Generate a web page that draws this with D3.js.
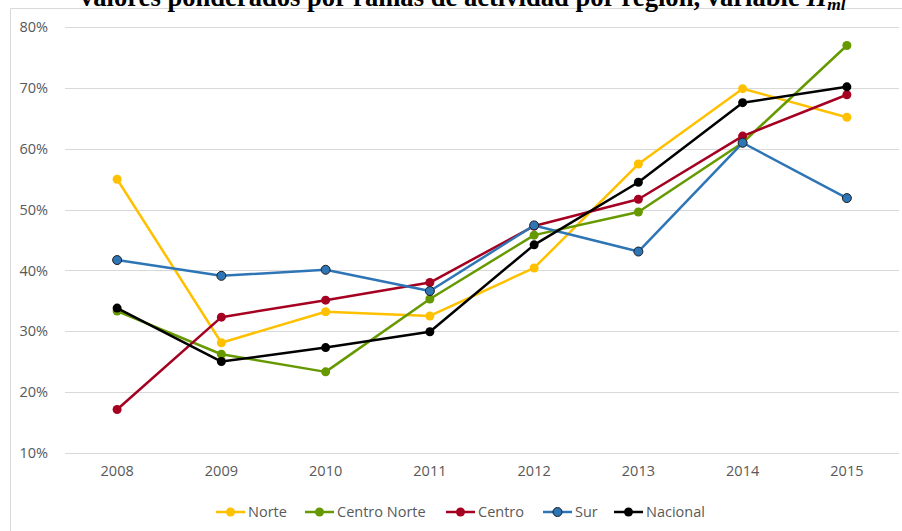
<!DOCTYPE html>
<html>
<head>
<meta charset="utf-8">
<script src="https://cdn.jsdelivr.net/npm/d3@7"></script>
<style>
  html, body { margin: 0; padding: 0; background: #fff; }
  svg { display: block; }
</style>
</head>
<body>
<div id="chart"></div>
<script>
// data
const years = ['2008', '2009', '2010', '2011', '2012', '2013', '2014', '2015'];
const yTicks = [0.1, 0.2, 0.3, 0.4, 0.5, 0.6, 0.7, 0.8];

const norte = [0.550, 0.281, 0.332, 0.325, 0.404, 0.575, 0.699, 0.652];
const centroNorte = [0.333, 0.262, 0.233, 0.353, 0.458, 0.496, 0.610, 0.770];
const centro = [0.171, 0.323, 0.351, 0.380, 0.473, 0.517, 0.621, 0.689];
const sur = [0.417, 0.391, 0.401, 0.366, 0.474, 0.431, 0.610, 0.519];
const nacional = [0.338, 0.250, 0.273, 0.299, 0.442, 0.545, 0.676, 0.702];

const seriesNames = ['Norte', 'Centro Norte', 'Centro', 'Sur', 'Nacional'];
const seriesValues = [norte, centroNorte, centro, sur, nacional];
const seriesColors = ['#FFC000', '#669900', '#A50021', '#2E75B6', '#000000'];
const markerStroke = [null, null, null, '#1f1f1f', null];

const width = 902;
const height = 531;
const font = '"Open Sans", "Noto Sans", sans-serif';

const svg = d3.select('#chart')
    .append('svg')
    .attr('width', width)
    .attr('height', height);

// chart frame (only top and left edges are visible)
svg.append('path')
    .attr('d', `M10.5,${height} V8.5 H${width}`)
    .attr('fill', 'none')
    .attr('stroke', '#d9d9d9')
    .attr('stroke-width', 1);

// clipped title above the frame
const title = svg.append('text')
    .attr('x', 80)
    .attr('y', 6)
    .style('font-family', '"Liberation Serif", "Times New Roman", serif')
    .style('font-weight', 'bold')
    .style('font-size', '26.6px')
    .attr('fill', '#000');
title.append('tspan').text('valores ponderados por ramas de actividad por región, variable ');
title.append('tspan').style('font-style', 'italic').text('H');
title.append('tspan').style('font-style', 'italic').style('font-size', '17.5px')
    .attr('dy', 4).text('ml');

const x = d3.scaleBand()
    .domain(years)
    .range([65, 899])
    .paddingInner(0)
    .paddingOuter(0);

const y = d3.scaleLinear()
    .domain([0.1, 0.8])
    .range([452.7, 27.3]);

// gridlines
svg.append('g')
    .selectAll('line')
    .data(yTicks)
    .enter()
    .append('line')
    .attr('x1', 65)
    .attr('x2', 899)
    .attr('y1', d => Math.round(y(d)) + 0.5)
    .attr('y2', d => Math.round(y(d)) + 0.5)
    .attr('stroke', '#d9d9d9')
    .attr('stroke-width', 1);

// y axis labels
const yAxis = d3.axisLeft(y)
    .tickValues(yTicks)
    .tickFormat(d3.format('.0%'))
    .tickSize(0)
    .tickPadding(0);

svg.append('g')
    .attr('transform', 'translate(48,0)')
    .call(yAxis)
    .call(g => g.select('.domain').remove())
    .call(g => g.selectAll('text')
        .attr('fill', '#595959')
        .style('font-family', font)
        .style('font-size', '14.5px'));

// x axis labels
const xAxis = d3.axisBottom(x)
    .tickSize(0)
    .tickPadding(0);

svg.append('g')
    .attr('transform', 'translate(0,466)')
    .call(xAxis)
    .call(g => g.select('.domain').remove())
    .call(g => g.selectAll('text')
        .attr('fill', '#595959')
        .style('font-family', font)
        .style('font-size', '14.5px'));

const cx = d => x(d) + x.bandwidth() / 2;

const line = d3.line()
    .x((d, i) => cx(years[i]))
    .y(d => y(d));

seriesValues.forEach((vals, s) => {
    const g = svg.append('g').attr('class', 'series');

    g.append('path')
        .datum(vals)
        .attr('d', line)
        .attr('fill', 'none')
        .attr('stroke', seriesColors[s])
        .attr('stroke-width', 2.5)
        .attr('stroke-linejoin', 'round');

    g.selectAll('circle')
        .data(vals)
        .enter()
        .append('circle')
        .attr('cx', (d, i) => cx(years[i]))
        .attr('cy', d => y(d))
        .attr('r', 4.5)
        .attr('fill', seriesColors[s])
        .attr('stroke', markerStroke[s] || 'none')
        .attr('stroke-width', 1);
});

// legend
const legendX = [216, 305, 446, 543, 614];
const legend = svg.append('g');

seriesNames.forEach((name, i) => {
    const item = legend.append('g')
        .attr('transform', `translate(${legendX[i]}, 512)`);

    item.append('line')
        .attr('x1', 0)
        .attr('x2', 29)
        .attr('stroke', seriesColors[i])
        .attr('stroke-width', 2.5);

    item.append('circle')
        .attr('cx', 14.5)
        .attr('r', 4.5)
        .attr('fill', seriesColors[i])
        .attr('stroke', markerStroke[i] || 'none')
        .attr('stroke-width', 1);

    item.append('text')
        .attr('x', 32)
        .attr('y', 5)
        .attr('fill', '#595959')
        .style('font-family', font)
        .style('font-size', '14.5px')
        .text(name);
});
</script>
</body>
</html>
